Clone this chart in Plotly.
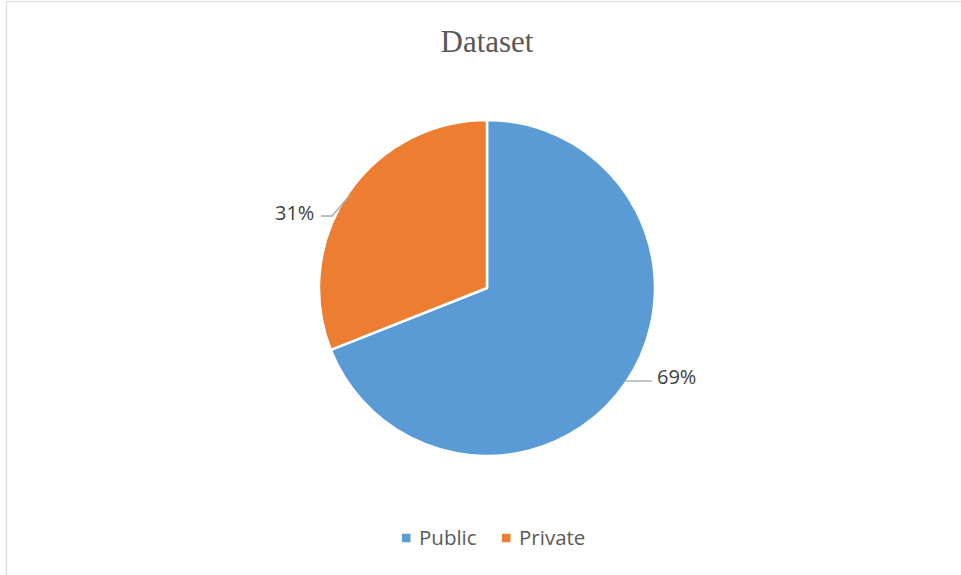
import math
import plotly.graph_objects as go

# Chart data
labels = ["Public", "Private"]
values = [69, 31]
colors = ["#5B9BD5", "#ED7D31"]
title_text = "Dataset"

W, H = 961, 575
CX, CY, R = 487, 288, 168  # pie centre and radius in pixels


def px(x):
    return x / W


def py(y):
    return 1 - y / H


fig = go.Figure()
fig.add_trace(go.Pie(
    labels=labels,
    values=values,
    sort=False,
    direction="clockwise",
    rotation=0,
    textinfo="none",
    hoverinfo="label+percent",
    showlegend=False,
    marker=dict(colors=colors, line=dict(color="white", width=2.5)),
    domain=dict(x=[px(CX - R), px(CX + R)], y=[py(CY + R), py(CY - R)]),
))

label_font = dict(family="Open Sans", size=20, color="#404040")

# Outside percentage labels with leader lines
total = sum(values)
start = 0.0
shapes = []
annotations = []
for lab, v in zip(labels, values):
    frac = v / total
    mid = (start + frac / 2) * 2 * math.pi
    start += frac
    ex = CX + R * math.sin(mid) * 0.985
    ey = CY - R * math.cos(mid) * 0.985
    pct = f"{round(frac * 100)}%"
    if math.sin(mid) < 0:
        # elbow up-left, then horizontal to the label
        kx, ky = ex - 18, ey + 21
        hx = kx - 11
        pts = [(ex, ey), (kx, ky), (hx, ky)]
        annotations.append(dict(x=px(hx - 5), y=py(ky - 3), xref="paper", yref="paper",
                                text=pct, showarrow=False, xanchor="right", yanchor="middle",
                                font=label_font))
    else:
        hx = ex + 28
        pts = [(ex, ey), (hx, ey)]
        annotations.append(dict(x=px(hx + 3), y=py(ey - 5), xref="paper", yref="paper",
                                text=pct, showarrow=False, xanchor="left", yanchor="middle",
                                font=label_font))
    path = "M " + " L ".join(f"{px(a):.5f},{py(b):.5f}" for a, b in pts)
    shapes.append(dict(type="path", path=path, xref="paper", yref="paper",
                       line=dict(color="#A6A6A6", width=1.3)))

# Legend row at the bottom: small square swatch followed by the label
legend_y = 538
legend_x = [402, 502]
sq = 8.5
for lab, col, lx in zip(labels, colors, legend_x):
    shapes.append(dict(type="rect", xref="paper", yref="paper",
                       x0=px(lx), x1=px(lx + sq), y0=py(legend_y + sq / 2), y1=py(legend_y - sq / 2),
                       fillcolor=col, line=dict(width=0)))
    annotations.append(dict(x=px(lx + sq + 6), y=py(legend_y - 1), xref="paper", yref="paper",
                            text=lab, showarrow=False, xanchor="left", yanchor="middle",
                            font=dict(family="Open Sans", size=20.5, color="#595959")))

# Chart area border
shapes.append(dict(type="rect", xref="paper", yref="paper",
                   x0=px(6.5), x1=px(W + 5), y0=py(H + 5), y1=py(1.5),
                   line=dict(color="#D9D9D9", width=1.2), fillcolor="rgba(0,0,0,0)"))

fig.update_layout(
    width=W, height=H,
    margin=dict(l=0, r=0, t=0, b=0),
    paper_bgcolor="white",
    plot_bgcolor="white",
    title=dict(text=title_text, x=px(487), xanchor="center", y=py(41), yanchor="middle",
               font=dict(family="Liberation Serif", size=31, color="#595959")),
    shapes=shapes,
    annotations=annotations,
)

fig.write_html("out.html")
